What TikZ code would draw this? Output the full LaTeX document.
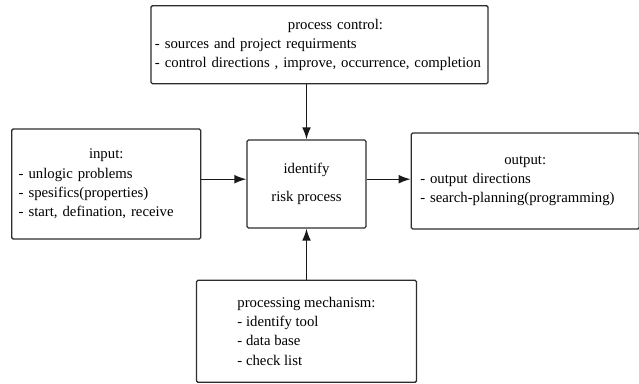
\documentclass[tikz,border=0pt]{standalone}
\usepackage{fontspec}
\setmainfont{Liberation Serif}
\usetikzlibrary{arrows.meta,positioning}
\definecolor{lineDark}{RGB}{45,45,45}
\tikzset{
  basebox/.style={rectangle,rounded corners=1pt,draw=lineDark,line width=0.9pt,fill=white,font=\fontsize{10.5}{13.7}\selectfont},
  listbox/.style={basebox,align=left},
  ctrlnode/.style={listbox,inner xsep=0.1cm,text width=8.225cm,minimum height=1.95cm},
  inputnode/.style={listbox,inner xsep=0.175cm,text width=4.375cm,minimum height=2.75cm},
  outnode/.style={listbox,inner xsep=0.225cm,text width=5.25cm,minimum height=2.4cm},
  mechnode/.style={listbox,minimum width=5.5cm,minimum height=2.55cm},
  idnode/.style={basebox,align=center,minimum width=2.975cm,minimum height=2.2cm},
  arr/.style={-{Latex[length=3mm,width=2.2mm]},line width=1pt,color=black!90}
}
\newcommand{\boxtitle}[2][0cm]{\hbox to\hsize{\hss\hspace*{#1}#2\hss}\\}
\begin{document}
\begin{tikzpicture}
  \useasboundingbox (-7.6625,-4.975) rectangle (8.3125,4.6);
  \node[idnode] (id) at (0,0) {identify\\[6pt]risk process};
  \node[ctrlnode,above=1.375cm of id,xshift=0.325cm] (ctrl)
      {\boxtitle[0.8cm]{process control:}- sources and project requirments\\
       - control directions , improve, occurrence, completion};
  \node[inputnode,left=1.125cm of id] (inp)
      {\boxtitle{input:}- unlogic problems\\
       - spesifics(properties)\\
       - start, defination, receive};
  \node[outnode,right=1.1cm of id,yshift=0.075cm] (outp)
      {\boxtitle{output:}- output directions\\
       - search-planning(programming)};
  \node[mechnode,below=1.275cm of id] (mech)
      {processing mechanism:\\- identify tool\\- data base\\- check list};

  \draw[arr] (ctrl.south -| id.north) -- (id.north);
  \draw[arr] (mech.north) -- (id.south);
  \draw[arr] ([yshift=0.12cm]inp.east) -- ([yshift=0.12cm]id.west);
  \draw[arr] ([yshift=0.12cm]id.east) -- ([yshift=0.12cm]id.east -| outp.west);
\end{tikzpicture}
\end{document}
